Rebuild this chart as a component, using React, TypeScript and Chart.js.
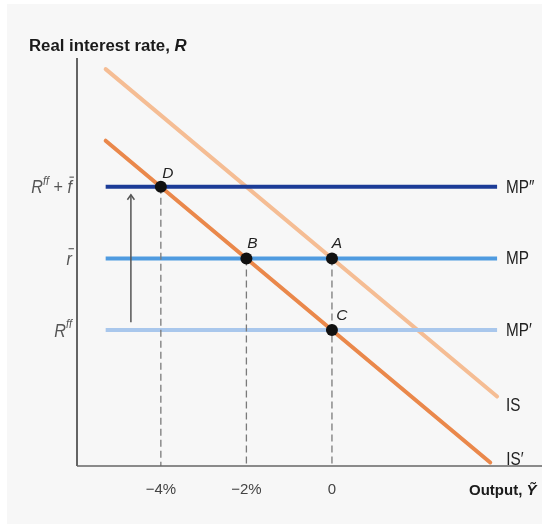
import React, { useEffect, useRef } from "react";
import { Chart, registerables } from "chart.js";

Chart.register(...registerables);

// ---- data ----
const xTickValues = [-4, -2, 0];
const xTickLabels = ["−4%", "−2%", "0"];
const rateLevels = [2, 3, 4]; // R^ff, r̄, R^ff + f̄
const rateNames = ["MP′", "MP", "MP″"];
const mpStartX = -5.29;
const mpEndX = 3.86;
const isX = [-5.29, 3.86];
const isY = [5.645, 1.07];
const isPrimeX = [-5.29, 3.7];
const isPrimeY = [4.645, 0.15];
const pointNames = ["D", "B", "A", "C"];
const pointX = [-4, -2, 0, 0];
const pointY = [4, 3, 3, 2];
const dropX = [-4, -2, 0];
const dropTopY = [4, 3, 3];
const arrowX = -4.7;
const arrowFromY = 2.11;
const arrowToY = 3.89;
const xMin = -5.96;
const xMax = 4.91;
const yMin = 0.1;
const yMax = 5.8;

const mpColors = ["#a9c7ec", "#4f9be0", "#1c3c97"];
const isColor = "#f5bd94";
const isPrimeColor = "#ea884b";

const FONT = '"Liberation Sans", Arial, Helvetica, sans-serif';

type Seg = { t: string; it?: boolean; sup?: boolean; bar?: boolean; bold?: boolean };

function drawSegs(
  ctx: CanvasRenderingContext2D,
  segs: Seg[],
  x: number,
  y: number,
  size: number,
  align: "left" | "right",
  color: string,
  sx = 1
) {
  const fontFor = (s: Seg) =>
    `${s.it ? "italic " : ""}${s.bold ? "bold " : ""}${s.sup ? Math.round(size * 0.66) : size}px ${FONT}`;
  let total = 0;
  const widths: number[] = [];
  segs.forEach((s) => {
    ctx.font = fontFor(s);
    const w = ctx.measureText(s.t).width;
    widths.push(w);
    total += w;
  });
  ctx.save();
  ctx.translate(x, y);
  ctx.scale(sx, 1);
  let cx = align === "right" ? -total : 0;
  ctx.fillStyle = color;
  ctx.strokeStyle = color;
  ctx.textAlign = "left";
  ctx.textBaseline = "alphabetic";
  segs.forEach((s, i) => {
    ctx.font = fontFor(s);
    const yy = s.sup ? -size * 0.45 : 0;
    ctx.fillText(s.t, cx, yy);
    if (s.bar) {
      ctx.lineWidth = 1.1;
      ctx.beginPath();
      const by = -size * 0.9;
      ctx.moveTo(cx + size * 0.12, by);
      ctx.lineTo(cx + widths[i] + size * 0.12, by);
      ctx.stroke();
    }
    cx += widths[i];
  });
  ctx.restore();
}

function drawText(ctx: CanvasRenderingContext2D, text: string, x: number, y: number, font: string, align: CanvasTextAlign, sx: number) {
  ctx.save();
  ctx.translate(x, y);
  ctx.scale(sx, 1);
  ctx.font = font;
  ctx.textAlign = align;
  ctx.fillText(text, 0, 0);
  ctx.restore();
}

const overlayPlugin = {
  id: "overlay",
  afterDraw(chart: any) {
    const ctx: CanvasRenderingContext2D = chart.ctx;
    const xs = chart.scales.x;
    const ys = chart.scales.y;
    const area = chart.chartArea;
    ctx.save();

    // axes
    ctx.lineWidth = 1.5;
    ctx.strokeStyle = "#333";
    ctx.beginPath();
    ctx.moveTo(area.left, area.top);
    ctx.lineTo(area.left, area.bottom);
    ctx.stroke();
    ctx.strokeStyle = "#666";
    ctx.beginPath();
    ctx.moveTo(area.left, area.bottom);
    ctx.lineTo(area.right, area.bottom);
    ctx.stroke();

    // x tick labels
    ctx.fillStyle = "#444";
    ctx.textBaseline = "alphabetic";
    xTickValues.forEach((v, i) => {
      drawText(ctx, xTickLabels[i], xs.getPixelForValue(v), area.bottom + 28, `15px ${FONT}`, "center", 1);
    });

    // y labels
    const yLabelX = area.left - 5;
    const ySize = 18;
    const ySegs: Seg[][] = [
      [{ t: "R", it: true }, { t: "ff", it: true, sup: true }],
      [{ t: "r", it: true, bar: true }],
      [{ t: "R", it: true }, { t: "ff", it: true, sup: true }, { t: " + " }, { t: "f", it: true, bar: true }],
    ];
    rateLevels.forEach((v, i) => {
      drawSegs(ctx, ySegs[i], yLabelX, ys.getPixelForValue(v) + 6.5, ySize, "right", "#555", 0.9);
    });

    // line labels
    ctx.fillStyle = "#222";
    ctx.textBaseline = "middle";
    const lf = `18px ${FONT}`;
    rateLevels.forEach((v, i) => {
      drawText(ctx, rateNames[i], xs.getPixelForValue(mpEndX) + 9, ys.getPixelForValue(v) + 1, lf, "left", 0.85);
    });
    drawText(ctx, "IS", xs.getPixelForValue(isX[1]) + 9, ys.getPixelForValue(isY[1]) + 9, lf, "left", 0.85);
    drawText(ctx, "IS′", xs.getPixelForValue(isPrimeX[1]) + 16, ys.getPixelForValue(isPrimeY[1]) - 2, lf, "left", 0.85);

    // point labels
    const offs = [
      [7, -13],
      [6, -15],
      [5, -15],
      [10, -14],
    ];
    pointNames.forEach((n, i) => {
      drawText(
        ctx,
        n,
        xs.getPixelForValue(pointX[i]) + offs[i][0],
        ys.getPixelForValue(pointY[i]) + offs[i][1],
        `italic 15.5px ${FONT}`,
        "center",
        1
      );
    });

    // arrow
    const ax = xs.getPixelForValue(arrowX);
    const a0 = ys.getPixelForValue(arrowFromY);
    const a1 = ys.getPixelForValue(arrowToY);
    ctx.strokeStyle = "#555";
    ctx.lineWidth = 1.5;
    ctx.beginPath();
    ctx.moveTo(ax, a0);
    ctx.lineTo(ax, a1);
    ctx.stroke();
    ctx.beginPath();
    ctx.moveTo(ax - 3.5, a1 + 5);
    ctx.lineTo(ax, a1);
    ctx.lineTo(ax + 3.5, a1 + 5);
    ctx.stroke();

    // titles
    drawSegs(ctx, [{ t: "Real interest rate, ", bold: true }, { t: "R", bold: true, it: true }], 22, 47, 16.8, "left", "#1a1a1a");
    drawSegs(ctx, [{ t: "Output, ", bold: true }, { t: "Ỹ", bold: true, it: true }], 462, 491, 15, "left", "#1a1a1a");

    ctx.restore();
  },
};

export default function App() {
  const ref = useRef<HTMLCanvasElement | null>(null);
  useEffect(() => {
    if (!ref.current) return;
    const pts = (xa: number[], ya: number[]) => xa.map((x, i) => ({ x, y: ya[i] }));
    const datasets: any[] = [];
    datasets.push({
      label: "points",
      data: pts(pointX, pointY),
      showLine: false,
      pointRadius: 6,
      pointBackgroundColor: "#111",
      pointBorderWidth: 0,
      order: 0,
    });
    dropX.forEach((x, i) => {
      datasets.push({
        label: "drop" + i,
        data: [
          { x, y: dropTopY[i] },
          { x, y: yMin },
        ],
        showLine: true,
        borderColor: "#7a7a7a",
        borderWidth: 1.3,
        borderDash: [7, 4],
        pointRadius: 0,
        order: 1,
      });
    });
    rateLevels.forEach((v, i) => {
      datasets.push({
        label: rateNames[i],
        data: [
          { x: mpStartX, y: v },
          { x: mpEndX, y: v },
        ],
        showLine: true,
        borderColor: mpColors[i],
        borderWidth: 4,
        pointRadius: 0,
        order: 2,
      });
    });
    datasets.push({
      label: "IS",
      data: pts(isX, isY),
      showLine: true,
      borderColor: isColor,
      borderWidth: 4,
      pointRadius: 0,
      borderCapStyle: "round",
      order: 3,
    });
    datasets.push({
      label: "IS′",
      data: pts(isPrimeX, isPrimeY),
      showLine: true,
      borderColor: isPrimeColor,
      borderWidth: 4,
      pointRadius: 0,
      borderCapStyle: "round",
      order: 3,
    });

    const chart = new Chart(ref.current, {
      type: "scatter",
      data: { datasets },
      options: {
        responsive: false,
        animation: false,
        devicePixelRatio: 1,
        layout: { autoPadding: false, padding: { left: 70, right: 0, top: 54, bottom: 58 } },
        scales: {
          x: { type: "linear", min: xMin, max: xMax, display: false },
          y: { type: "linear", min: yMin, max: yMax, display: false },
        },
        plugins: { legend: { display: false }, tooltip: { enabled: false } },
        elements: { line: { tension: 0 } },
      } as any,
      plugins: [overlayPlugin],
    });
    return () => chart.destroy();
  }, []);

  return (
    <div style={{ position: "fixed", left: 0, top: 0, width: 542, height: 524, background: "#ffffff" }}>
      <div style={{ position: "absolute", left: 7, top: 4, width: 535, height: 520, background: "#f7f7f7" }}>
        <canvas ref={ref} width={535} height={520} style={{ display: "block", width: 535, height: 520 }} />
      </div>
    </div>
  );
}
